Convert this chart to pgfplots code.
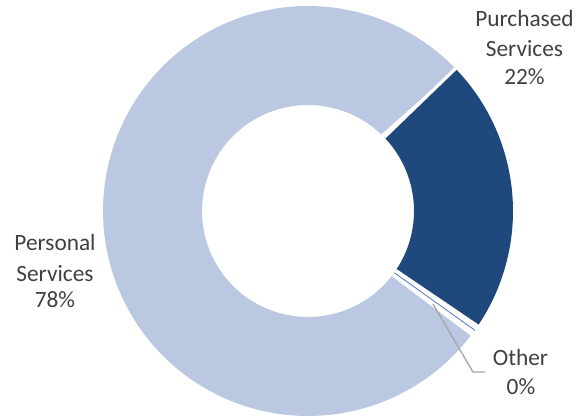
\documentclass[border=0pt]{standalone}
\usepackage{pgfplots}
\pgfplotsset{compat=1.18}
\usepackage{pgfplotstable}
\usepackage{fontspec}
\setmainfont{Carlito}
\definecolor{lightslice}{RGB}{187,200,225}
\definecolor{darkslice}{RGB}{31,73,125}
\definecolor{otherline}{RGB}{79,120,190}
\definecolor{labelgray}{RGB}{64,64,64}
\definecolor{leadergray}{RGB}{166,166,166}

\pgfplotstableread{
label value
Purchased 21.7
Other 0.8
Personal 77.5
}\slices

% ring slice from angle #1 to angle #2 (degrees), fill colour #3
\newcommand{\ringslice}[3]{%
  \addplot[fill=#3, draw=none, domain=0:2, samples=241, variable=\t]
  ({308+ifthenelse(\t<=1,205,106)*cos(ifthenelse(\t<=1,#1+(#2-#1)*\t,#2+(#1-#2)*(\t-1)))},
   {207+ifthenelse(\t<=1,205,106)*sin(ifthenelse(\t<=1,#1+(#2-#1)*\t,#2+(#1-#2)*(\t-1)))});}
\newcommand{\radial}[2]{%
  \addplot[#2, domain=106:205.5, samples=2, variable=\t]
  ({308+\t*cos(#1)},{207+\t*sin(#1)});}

\begin{document}
\begin{tikzpicture}
\pgfplotstablegetelem{0}{value}\of\slices \let\vP\pgfplotsretval
\pgfplotstablegetelem{1}{value}\of\slices \let\vO\pgfplotsretval
\pgfplotstablegetelem{2}{value}\of\slices \let\vS\pgfplotsretval
\pgfmathsetmacro\aA{44}
\pgfmathsetmacro\aB{\aA-3.6*\vP}
\pgfmathsetmacro\aC{\aB-3.6*\vO}
\pgfmathsetmacro\aD{\aC-3.6*\vS}
\pgfmathsetmacro\aM{(\aB+\aC)/2}
\begin{axis}[hide axis, scale only axis, width=440.25pt, height=313.5pt,
  xmin=0, xmax=587, ymin=0, ymax=418, clip=false]
\coordinate (SW) at (axis cs:0,0);
\coordinate (NE) at (axis cs:587,418);
\ringslice{\aA}{\aB}{darkslice}
\ringslice{\aB}{\aC}{white}
\ringslice{\aC}{\aD}{lightslice}
\radial{\aM}{otherline, line width=0.6pt}
\radial{\aA}{white, line width=2.4pt}
\radial{\aB}{white, line width=2.4pt}
\radial{\aC}{white, line width=2.4pt}
% leader line for Other
\addplot[leadergray, line width=1pt] coordinates {(433,114) (473,46) (485,46)};
\begin{scope}[every node/.style={font=\fontsize{17.5pt}{21pt}\selectfont, text=labelgray, anchor=base, inner sep=0pt}]
\node at (axis cs:524.5,391) {Purchased};
\node at (axis cs:524.5,361) {Services};
\node at (axis cs:524.5,333) {22\%};
\node at (axis cs:55,167) {Personal};
\node at (axis cs:55,136) {Services};
\node at (axis cs:55,110) {78\%};
\node at (axis cs:520.5,52) {Other};
\node at (axis cs:521,23) {0\%};
\end{scope}
\end{axis}
\pgfresetboundingbox
\useasboundingbox (SW) rectangle (NE);
\end{tikzpicture}
\end{document}
